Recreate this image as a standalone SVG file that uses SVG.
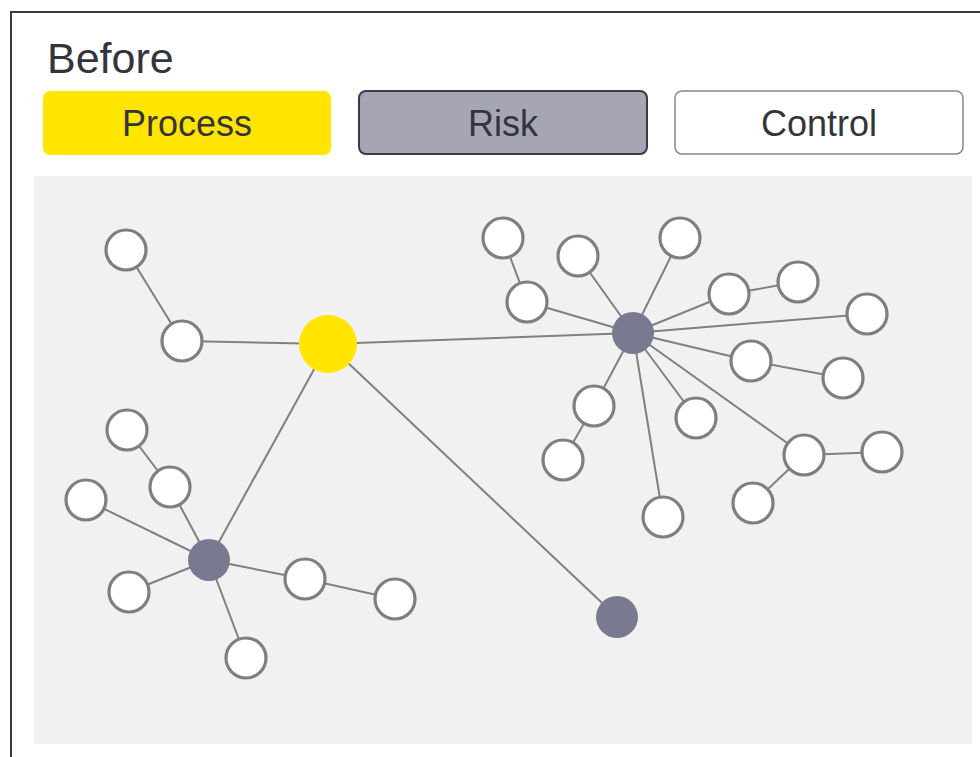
<svg xmlns="http://www.w3.org/2000/svg" width="980" height="757" viewBox="0 0 980 757">
<style>
.lbl{font-family:"Liberation Sans",Arial,sans-serif;fill:#34343c;text-anchor:middle}
.edge{stroke:#808080;stroke-width:2;fill:none}
.ctl{fill:#ffffff;stroke:#7f7f7f;stroke-width:3.2}
.risk{fill:#797990}
.proc{fill:#FFE500}
</style>
<rect x="0" y="0" width="980" height="757" fill="#ffffff"/>
<path d="M11 757 V12 H980" fill="none" stroke="#3a3a42" stroke-width="2"/>
<text x="47" y="73" font-family="'Liberation Sans',Arial,sans-serif" font-size="43" fill="#34343c">Before</text>
<g id="legend-process">
<rect x="43" y="91" width="288" height="64" rx="7" class="proc"/>
<text x="187" y="136" class="lbl" font-size="36">Process</text>
</g>
<g id="legend-risk">
<rect x="359" y="91" width="288" height="63" rx="7" fill="#A6A5B4" stroke="#3a3a48" stroke-width="2"/>
<text x="503" y="136" class="lbl" font-size="36">Risk</text>
</g>
<g id="legend-control">
<rect x="675" y="91" width="288" height="63" rx="7" fill="#ffffff" stroke="#888888" stroke-width="1.5"/>
<text x="819" y="136" class="lbl" font-size="36">Control</text>
</g>
<rect x="34" y="176" width="938" height="568" fill="#F1F1F1"/>
<g id="connectors">
<line class="edge" x1="126" y1="250" x2="182" y2="341"/>
<line class="edge" x1="182" y1="341" x2="328" y2="344"/>
<line class="edge" x1="328" y1="344" x2="633" y2="333"/>
<line class="edge" x1="328" y1="344" x2="209" y2="560"/>
<line class="edge" x1="328" y1="344" x2="617" y2="617"/>
<line class="edge" x1="127" y1="430" x2="170" y2="487"/>
<line class="edge" x1="170" y1="487" x2="209" y2="560"/>
<line class="edge" x1="86" y1="500" x2="209" y2="560"/>
<line class="edge" x1="129" y1="592" x2="209" y2="560"/>
<line class="edge" x1="209" y1="560" x2="305" y2="579"/>
<line class="edge" x1="305" y1="579" x2="395" y2="599"/>
<line class="edge" x1="209" y1="560" x2="246" y2="658"/>
<line class="edge" x1="503" y1="238" x2="527" y2="302"/>
<line class="edge" x1="527" y1="302" x2="633" y2="333"/>
<line class="edge" x1="578" y1="256" x2="633" y2="333"/>
<line class="edge" x1="680" y1="238" x2="633" y2="333"/>
<line class="edge" x1="633" y1="333" x2="729" y2="294"/>
<line class="edge" x1="729" y1="294" x2="798" y2="282"/>
<line class="edge" x1="633" y1="333" x2="867" y2="314"/>
<line class="edge" x1="633" y1="333" x2="751" y2="361"/>
<line class="edge" x1="751" y1="361" x2="843" y2="378"/>
<line class="edge" x1="633" y1="333" x2="594" y2="406"/>
<line class="edge" x1="594" y1="406" x2="563" y2="460"/>
<line class="edge" x1="633" y1="333" x2="696" y2="418"/>
<line class="edge" x1="633" y1="333" x2="804" y2="455"/>
<line class="edge" x1="804" y1="455" x2="882" y2="452"/>
<line class="edge" x1="804" y1="455" x2="753" y2="503"/>
<line class="edge" x1="633" y1="333" x2="663" y2="517"/>
</g>
<g id="process"><circle cx="328" cy="344" r="29" class="proc"/></g>
<g id="risk-1"><circle cx="209" cy="560" r="21" class="risk"/></g>
<g id="risk-2"><circle cx="633" cy="333" r="21" class="risk"/></g>
<g id="risk-3"><circle cx="617" cy="617" r="21" class="risk"/></g>
<g id="c-a"><circle cx="126" cy="250" r="20" class="ctl"/></g>
<g id="c-b"><circle cx="182" cy="341" r="20" class="ctl"/></g>
<g id="c-1"><circle cx="127" cy="430" r="20" class="ctl"/></g>
<g id="c-2"><circle cx="170" cy="487" r="20" class="ctl"/></g>
<g id="c-3"><circle cx="86" cy="500" r="20" class="ctl"/></g>
<g id="c-4"><circle cx="129" cy="592" r="20" class="ctl"/></g>
<g id="c-5"><circle cx="305" cy="579" r="20" class="ctl"/></g>
<g id="c-6"><circle cx="395" cy="599" r="20" class="ctl"/></g>
<g id="c-7"><circle cx="246" cy="658" r="20" class="ctl"/></g>
<g id="d-1"><circle cx="503" cy="238" r="20" class="ctl"/></g>
<g id="d-2"><circle cx="527" cy="302" r="20" class="ctl"/></g>
<g id="d-3"><circle cx="578" cy="256" r="20" class="ctl"/></g>
<g id="d-4"><circle cx="680" cy="238" r="20" class="ctl"/></g>
<g id="d-5"><circle cx="729" cy="294" r="20" class="ctl"/></g>
<g id="d-6"><circle cx="798" cy="282" r="20" class="ctl"/></g>
<g id="d-7"><circle cx="867" cy="314" r="20" class="ctl"/></g>
<g id="d-8"><circle cx="751" cy="361" r="20" class="ctl"/></g>
<g id="d-9"><circle cx="843" cy="378" r="20" class="ctl"/></g>
<g id="d-10"><circle cx="594" cy="406" r="20" class="ctl"/></g>
<g id="d-11"><circle cx="563" cy="460" r="20" class="ctl"/></g>
<g id="d-12"><circle cx="696" cy="418" r="20" class="ctl"/></g>
<g id="d-13"><circle cx="804" cy="455" r="20" class="ctl"/></g>
<g id="d-14"><circle cx="882" cy="452" r="20" class="ctl"/></g>
<g id="d-15"><circle cx="753" cy="503" r="20" class="ctl"/></g>
<g id="d-16"><circle cx="663" cy="517" r="20" class="ctl"/></g>
</svg>
